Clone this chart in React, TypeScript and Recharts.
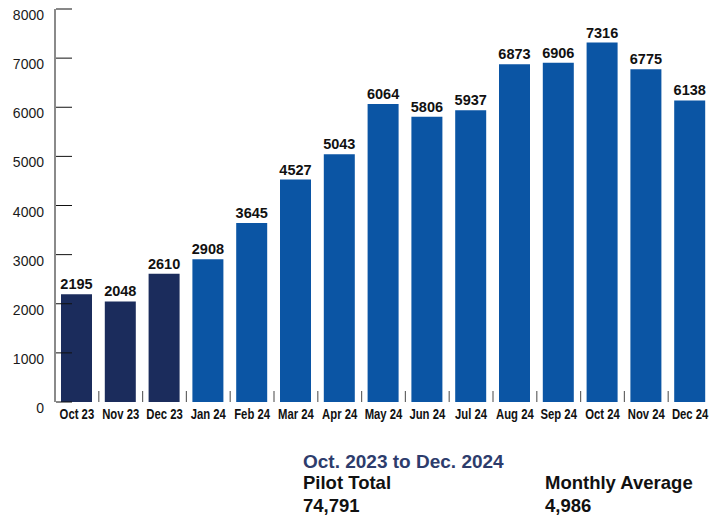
import { Bar, BarChart, Cell, LabelList, XAxis, YAxis } from "recharts";

const MONTHS = [
  "Oct 23", "Nov 23", "Dec 23", "Jan 24", "Feb 24", "Mar 24", "Apr 24", "May 24",
  "Jun 24", "Jul 24", "Aug 24", "Sep 24", "Oct 24", "Nov 24", "Dec 24",
];
const VISITS = [2195, 2048, 2610, 2908, 3645, 4527, 5043, 6064, 5806, 5937, 6873, 6906, 7316, 6775, 6138];
const Y_TICKS = [0, 1000, 2000, 3000, 4000, 5000, 6000, 7000, 8000];
const PILOT_YEAR_COUNT = 3; // first three months belong to 2023 and are drawn darker

const NAVY = "#1b2c5c";
const BLUE = "#0b55a4";
const WIDTH = 720;
const HEIGHT = 430;
const MARGIN = { top: 9, right: 8, left: 0, bottom: 0 };
const Y_AXIS_WIDTH = 55;
const BAND = (WIDTH - MARGIN.left - MARGIN.right - Y_AXIS_WIDTH) / MONTHS.length;

const sans = "'Liberation Sans', Arial, Helvetica, sans-serif";

const data = MONTHS.map((month, i) => ({ month, visits: VISITS[i] }));

function YTick(props: any) {
  const { x, y, payload } = props;
  return (
    <g>
      <line x1={x + 1} x2={x + 17} y1={y} y2={y} stroke="#111" strokeWidth={1} />
      <text x={x - 11} y={y + 11} textAnchor="end" fontSize={14} fontFamily={sans} fill="#1a1a1a">
        {payload.value}
      </text>
    </g>
  );
}

function XTick(props: any) {
  const { x, y, payload, index } = props;
  return (
    <g>
      {index < MONTHS.length - 1 && (
        <line x1={x + BAND / 2} x2={x + BAND / 2} y1={y - 11} y2={y} stroke="#666" strokeWidth={1.2} />
      )}
      {/* condensed look: squeeze a bold sans horizontally */}
      <text
        transform={`translate(${x}, ${y + 17}) scale(0.78, 1)`}
        textAnchor="middle"
        fontSize={14.5}
        fontWeight={700}
        fontFamily={sans}
        fill="#111"
      >
        {payload.value}
      </text>
    </g>
  );
}

export default function App() {
  return (
    <div style={{ position: "absolute", left: 0, top: 0, width: WIDTH, height: 517, background: "#fff" }}>
      <BarChart width={WIDTH} height={HEIGHT} data={data} margin={MARGIN}>
        <XAxis
          dataKey="month"
          height={28}
          axisLine={false}
          tickLine={false}
          tickSize={0}
          tickMargin={0}
          interval={0}
          tick={<XTick />}
        />
        <YAxis
          width={Y_AXIS_WIDTH}
          domain={[0, 8000]}
          ticks={Y_TICKS}
          axisLine={{ stroke: "#8a8a8a", strokeWidth: 2 }}
          tickLine={false}
          tickSize={0}
          tickMargin={0}
          tick={<YTick />}
        />
        <Bar dataKey="visits" barSize={31} isAnimationActive={false}>
          {data.map((item, index) => (
            <Cell key={item.month} fill={index < PILOT_YEAR_COUNT ? NAVY : BLUE} />
          ))}
          <LabelList
            dataKey="visits"
            position="top"
            offset={5}
            fill="#111"
            fontSize={14.5}
            fontWeight={700}
            fontFamily={sans}
          />
        </Bar>
      </BarChart>
      <svg width={WIDTH} height={87} style={{ position: "absolute", left: 0, top: HEIGHT }}>
        <text x={303} y={38} fontSize={19} fontWeight={700} fontFamily={sans} fill="#2d3c6c">
          Oct. 2023 to Dec. 2024
        </text>
        <text x={303} y={59} fontSize={18.5} fontWeight={700} fontFamily={sans} fill="#111">
          Pilot Total
        </text>
        <text x={303} y={82} fontSize={18.5} fontWeight={700} fontFamily={sans} fill="#111">
          74,791
        </text>
        <text x={545} y={59} fontSize={18.5} fontWeight={700} fontFamily={sans} fill="#111">
          Monthly Average
        </text>
        <text x={545} y={82} fontSize={18.5} fontWeight={700} fontFamily={sans} fill="#111">
          4,986
        </text>
      </svg>
    </div>
  );
}
